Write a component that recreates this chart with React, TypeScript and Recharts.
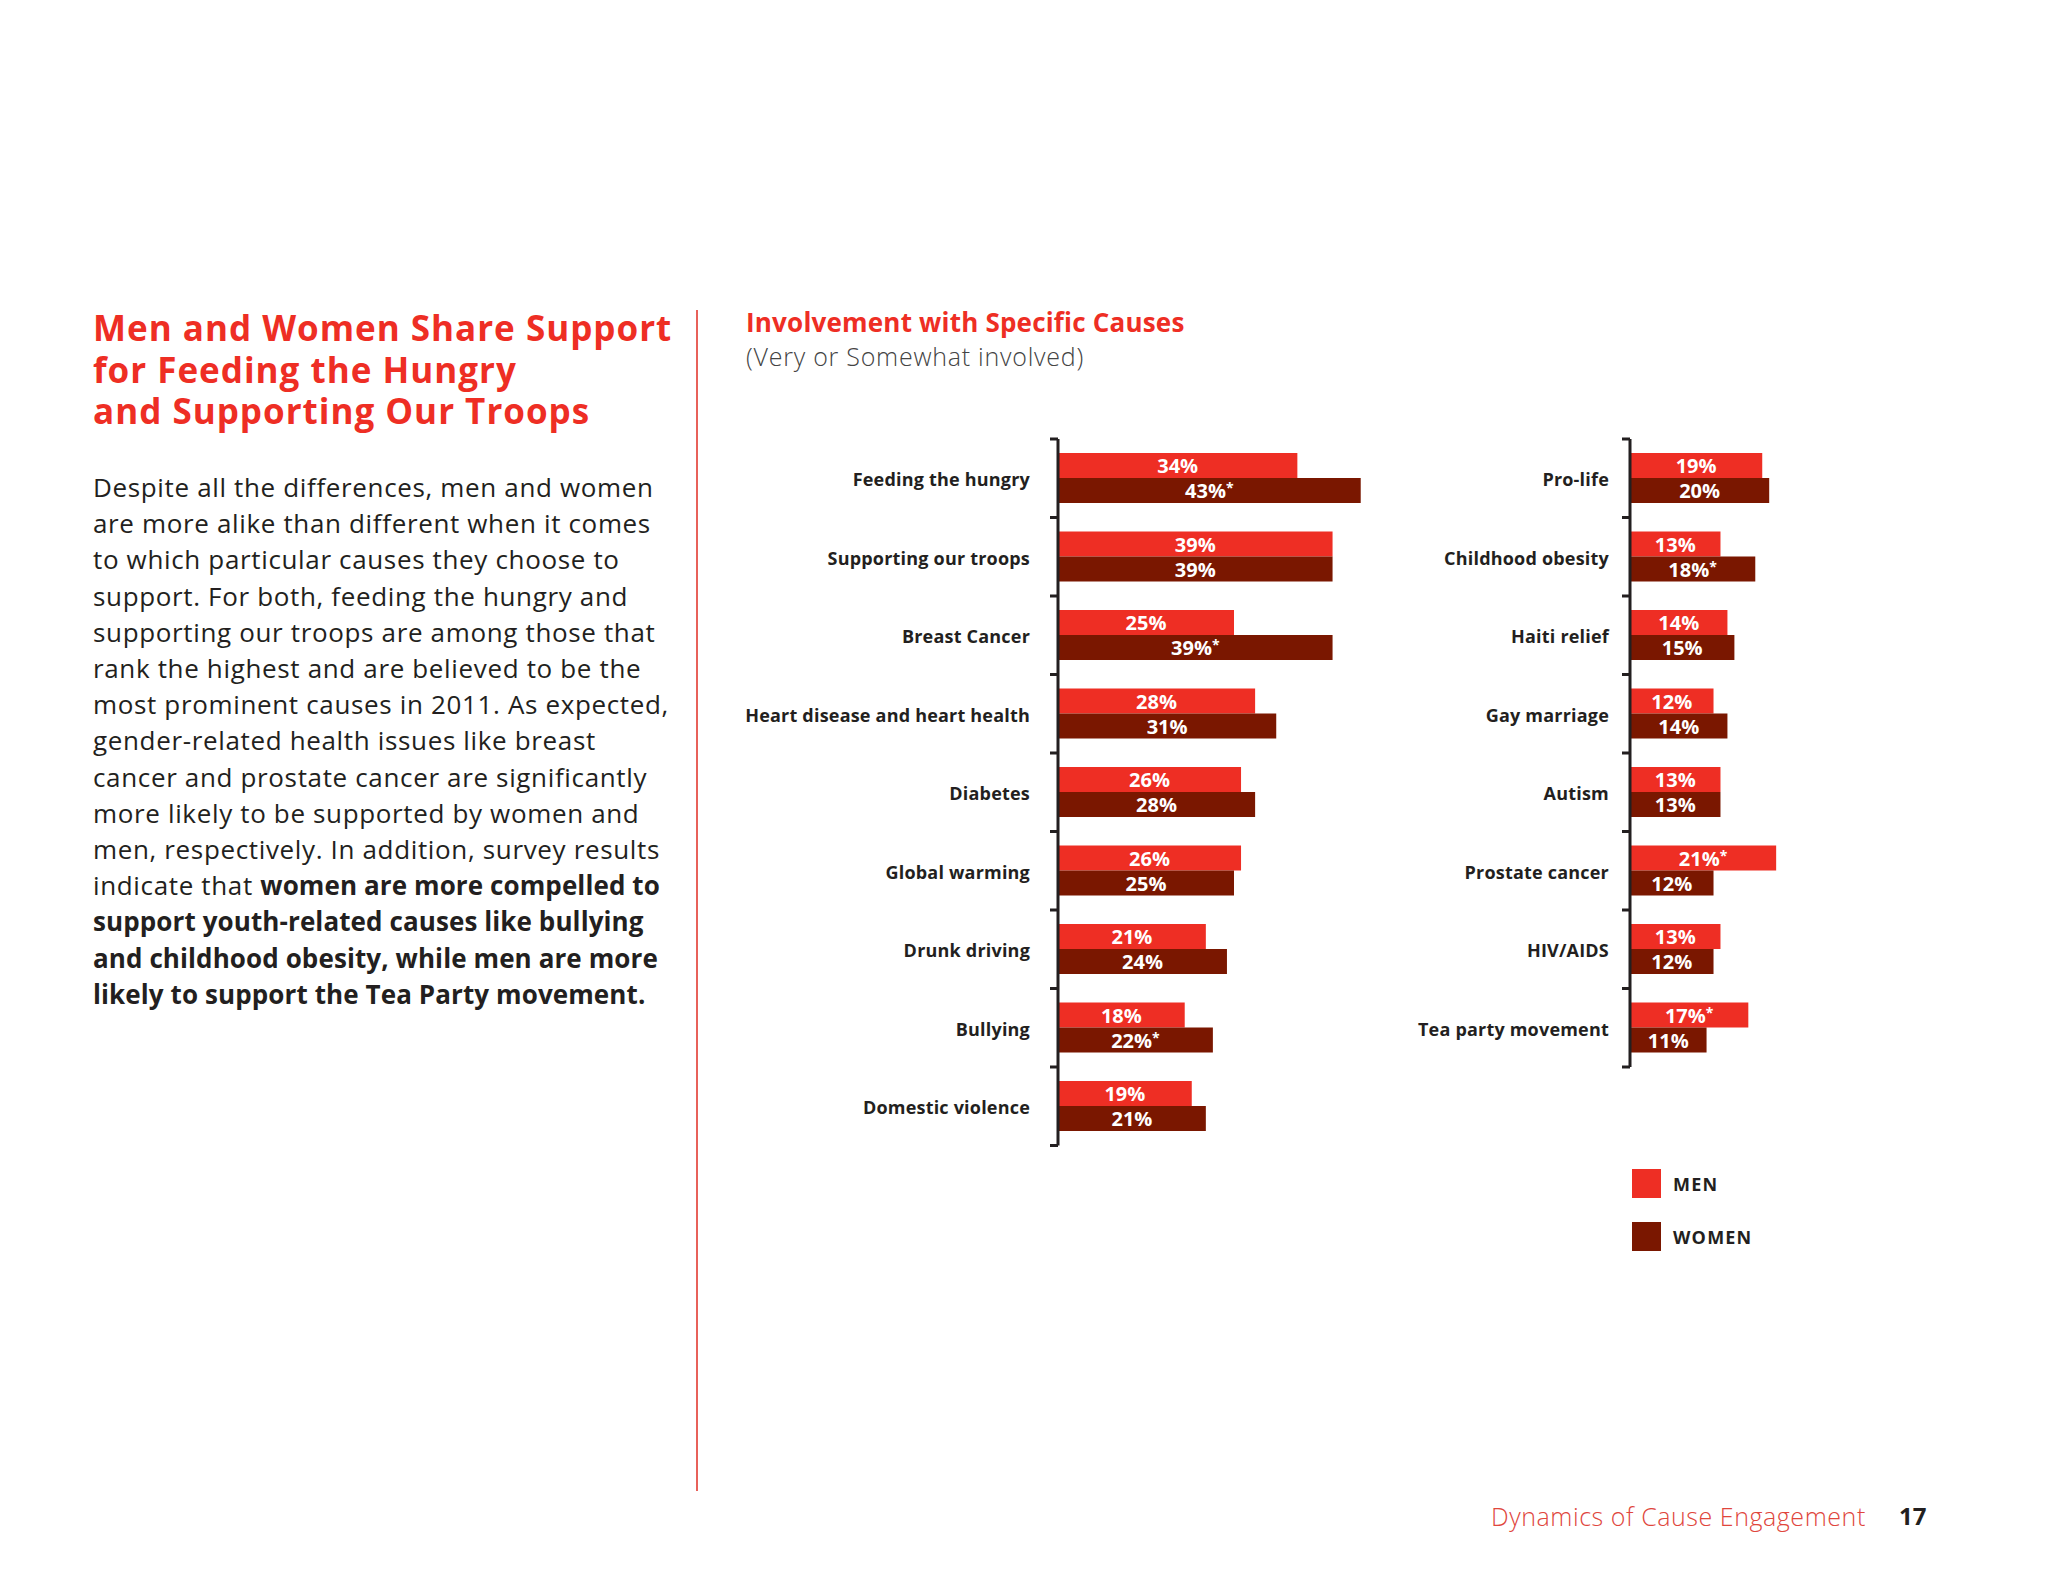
import { Bar, BarChart, LabelList, XAxis, YAxis } from "recharts";

const FONT = '"Open Sans", "Noto Sans", sans-serif';
const MEN_COLOR = "#EE2E24";
const WOMEN_COLOR = "#7A1700";
const INK = "#231F20";
const RED = "#EE2E24";

// left panel
const leftCauses = [
  "Feeding the hungry",
  "Supporting our troops",
  "Breast Cancer",
  "Heart disease and heart health",
  "Diabetes",
  "Global warming",
  "Drunk driving",
  "Bullying",
  "Domestic violence",
];
const leftMen = [34, 39, 25, 28, 26, 26, 21, 18, 19];
const leftWomen = [43, 39, 39, 31, 28, 25, 24, 22, 21];
const leftMenStar = [false, false, false, false, false, false, false, false, false];
const leftWomenStar = [true, false, true, false, false, false, false, true, false];

// right panel
const rightCauses = [
  "Pro-life",
  "Childhood obesity",
  "Haiti relief",
  "Gay marriage",
  "Autism",
  "Prostate cancer",
  "HIV/AIDS",
  "Tea party movement",
];
const rightMen = [19, 13, 14, 12, 13, 21, 13, 17];
const rightWomen = [20, 18, 15, 14, 13, 12, 12, 11];
const rightMenStar = [false, false, false, false, false, true, false, true];
const rightWomenStar = [false, true, false, false, false, false, false, false];

const headingLines = [
  "Men and Women Share Support",
  "for Feeding the Hungry",
  "and Supporting Our Troops",
];

const bodyLines: Array<Array<[string, boolean]>> = [
  [["Despite all the differences, men and women", false]],
  [["are more alike than different when it comes", false]],
  [["to which particular causes they choose to", false]],
  [["support. For both, feeding the hungry and", false]],
  [["supporting our troops are among those that", false]],
  [["rank the highest and are believed to be the", false]],
  [["most prominent causes in 2011. As expected,", false]],
  [["gender-related health issues like breast", false]],
  [["cancer and prostate cancer are significantly", false]],
  [["more likely to be supported by women and", false]],
  [["men, respectively. In addition, survey results", false]],
  [
    ["indicate that ", false],
    ["women are more compelled to", true],
  ],
  [["support youth-related causes like bullying", true]],
  [["and childhood obesity, while men are more", true]],
  [["likely to support the Tea Party movement.", true]],
];

const BAND = 78.5;
const BAR_SIZE = 25;
const MARGIN_TOP = 18;
const MARGIN_BOTTOM = 30;

type ChartProps = {
  causes: string[];
  men: number[];
  women: number[];
  menStar: boolean[];
  womenStar: boolean[];
  left: number;
  top: number;
  axisWidth: number;
  plotWidth: number;
  labelGap: number;
};

function valueLabel(stars: boolean[]) {
  return (props: any) => {
    const { x, y, width, height, value, index } = props;
    const cx = Number(x) + Number(width) / 2;
    const cy = Number(y) + Number(height) / 2;
    return (
      <text
        x={cx}
        y={cy}
        dy={7.5}
        textAnchor="middle"
        fill="#fff"
        fontFamily={FONT}
        fontSize={20}
        fontWeight={700}
      >
        {value}%
        {stars[index] ? (
          <tspan fontSize={14} dy={-5}>
            *
          </tspan>
        ) : null}
      </text>
    );
  };
}

function CauseChart({
  causes,
  men,
  women,
  menStar,
  womenStar,
  left,
  top,
  axisWidth,
  plotWidth,
  labelGap,
}: ChartProps) {
  const data = causes.map((cause, i) => ({ cause, men: men[i], women: women[i] }));
  const plotHeight = causes.length * BAND;
  const band = plotHeight / causes.length;
  const width = axisWidth + plotWidth + 20;
  const height = MARGIN_TOP + plotHeight + MARGIN_BOTTOM;

  const renderTick = (props: any) => {
    const { x, y, payload, index } = props;
    const isLast = index === causes.length - 1;
    return (
      <g>
        <text
          x={x - labelGap}
          y={y}
          dy={8}
          textAnchor="end"
          fill={INK}
          fontFamily={FONT}
          fontSize={18}
          fontWeight={700}
          letterSpacing={0.2}
        >
          {payload.value}
        </text>
        <line x1={x - 8} x2={x} y1={y - band / 2} y2={y - band / 2} stroke={INK} strokeWidth={3} />
        {isLast ? (
          <line x1={x - 8} x2={x} y1={y + band / 2} y2={y + band / 2} stroke={INK} strokeWidth={3} />
        ) : null}
      </g>
    );
  };

  return (
    <div style={{ position: "absolute", left, top: top - MARGIN_TOP }}>
      <BarChart
        width={width}
        height={height}
        data={data}
        layout="vertical"
        barGap={0}
        margin={{ top: MARGIN_TOP, right: 20, bottom: MARGIN_BOTTOM, left: 0 }}
      >
        <XAxis type="number" domain={[0, 50]} hide />
        <YAxis
          type="category"
          dataKey="cause"
          width={axisWidth}
          axisLine={{ stroke: INK, strokeWidth: 3 }}
          tickLine={false}
          tickSize={0}
          tickMargin={0}
          interval={0}
          tick={renderTick}
        />
        <Bar dataKey="men" fill={MEN_COLOR} barSize={BAR_SIZE} isAnimationActive={false}>
          <LabelList dataKey="men" content={valueLabel(menStar)} />
        </Bar>
        <Bar dataKey="women" fill={WOMEN_COLOR} barSize={BAR_SIZE} isAnimationActive={false}>
          <LabelList dataKey="women" content={valueLabel(womenStar)} />
        </Bar>
      </BarChart>
    </div>
  );
}

export default function App() {
  return (
    <div
      style={{
        position: "absolute",
        left: 0,
        top: 0,
        width: 2048,
        height: 1582,
        background: "#fff",
        fontFamily: FONT,
        overflow: "hidden",
      }}
    >
      {/* left column */}
      <div
        style={{
          position: "absolute",
          left: 93,
          top: 307,
          color: RED,
          fontSize: 35,
          fontWeight: 700,
          letterSpacing: 1,
          lineHeight: "41.5px",
          whiteSpace: "nowrap",
        }}
      >
        {headingLines.map((line) => (
          <div key={line} style={{ height: 41.5 }}>
            {line}
          </div>
        ))}
      </div>
      <div
        style={{
          position: "absolute",
          left: 93,
          top: 469,
          color: INK,
          fontSize: 26,
          lineHeight: "36.2px",
          whiteSpace: "nowrap",
        }}
      >
        {bodyLines.map((line, i) => (
          <div key={i}>
            {line.map(([txt, bold], j) => (
              <span
                key={j}
                style={{ fontWeight: bold ? 700 : 400, letterSpacing: bold ? 0.1 : 0.65 }}
              >
                {txt}
              </span>
            ))}
          </div>
        ))}
      </div>
      <div
        style={{
          position: "absolute",
          left: 696,
          top: 310,
          width: 2,
          height: 1181,
          background: "#E8615A",
        }}
      />

      {/* chart titles */}
      <div
        style={{
          position: "absolute",
          left: 746,
          top: 306,
          color: RED,
          fontSize: 26,
          fontWeight: 700,
          letterSpacing: 0.2,
          whiteSpace: "nowrap",
          lineHeight: "32px",
        }}
      >
        Involvement with Specific Causes
      </div>
      <div
        style={{
          position: "absolute",
          left: 746,
          top: 340,
          color: "#444",
          fontSize: 25,
          fontWeight: 300,
          letterSpacing: 0.75,
          whiteSpace: "nowrap",
          lineHeight: "32px",
        }}
      >
        (Very or Somewhat involved)
      </div>

      <CauseChart
        causes={leftCauses}
        men={leftMen}
        women={leftWomen}
        menStar={leftMenStar}
        womenStar={leftWomenStar}
        left={740}
        top={439}
        axisWidth={318}
        plotWidth={352}
        labelGap={28}
      />
      <CauseChart
        causes={rightCauses}
        men={rightMen}
        women={rightWomen}
        menStar={rightMenStar}
        womenStar={rightWomenStar}
        left={1300}
        top={439}
        axisWidth={330}
        plotWidth={348}
        labelGap={21}
      />

      {/* legend */}
      {[
        { label: "MEN", color: MEN_COLOR, top: 1169 },
        { label: "WOMEN", color: WOMEN_COLOR, top: 1222 },
      ].map((item) => (
        <div
          key={item.label}
          style={{ position: "absolute", left: 1632, top: item.top, display: "flex", alignItems: "center" }}
        >
          <div style={{ width: 29, height: 29, background: item.color }} />
          <div
            style={{
              marginLeft: 12,
              fontSize: 18,
              fontWeight: 700,
              color: INK,
              letterSpacing: 1.2,
            }}
          >
            {item.label}
          </div>
        </div>
      ))}

      {/* footer */}
      <div
        style={{
          position: "absolute",
          left: 1491,
          top: 1500,
          color: "#E0463C",
          fontSize: 25,
          fontWeight: 300,
          letterSpacing: 0.55,
          whiteSpace: "nowrap",
          lineHeight: "32px",
        }}
      >
        Dynamics of Cause Engagement
      </div>
      <div
        style={{
          position: "absolute",
          left: 1899,
          top: 1500,
          color: INK,
          fontSize: 24,
          fontWeight: 700,
          lineHeight: "32px",
        }}
      >
        17
      </div>
    </div>
  );
}
